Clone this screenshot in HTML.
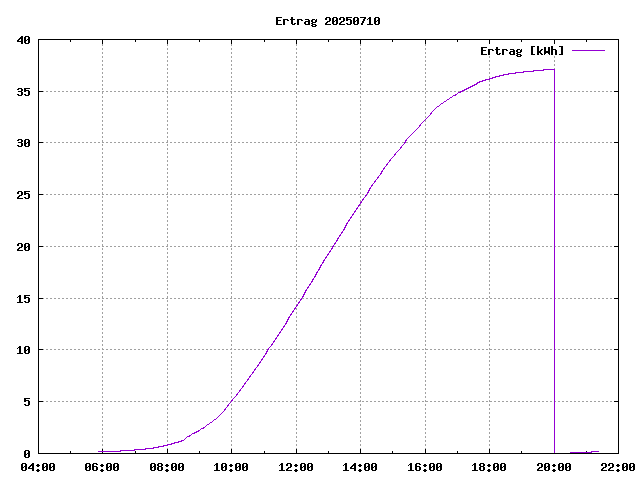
<!DOCTYPE html>
<html><head><meta charset="utf-8"><title>Ertrag 20250710</title>
<style>
html,body{margin:0;padding:0;background:#fff;width:640px;height:480px;overflow:hidden;font-family:"Liberation Mono",monospace;}
svg{display:block;position:absolute;left:0;top:0}
</style></head><body>
<svg width="640" height="480" viewBox="0 0 640 480" shape-rendering="crispEdges" role="img" aria-label="Ertrag 20250710">
<desc>Ertrag 20250710 - Ertrag [kWh]; y axis 0 to 40; x axis 04:00 to 22:00</desc>
<rect width="640" height="480" fill="#ffffff"/>
<path fill="#a0a0a0" d="M43 91h1v1h-1zM43 142h1v1h-1zM43 194h1v1h-1zM43 246h1v1h-1zM43 298h1v1h-1zM43 349h1v1h-1zM43 401h1v1h-1zM46 91h2v1h-2zM46 142h2v1h-2zM46 194h2v1h-2zM46 246h2v1h-2zM46 298h2v1h-2zM46 349h2v1h-2zM46 401h2v1h-2zM50 91h2v1h-2zM50 142h2v1h-2zM50 194h2v1h-2zM50 246h2v1h-2zM50 298h2v1h-2zM50 349h2v1h-2zM50 401h2v1h-2zM54 91h2v1h-2zM54 142h2v1h-2zM54 194h2v1h-2zM54 246h2v1h-2zM54 298h2v1h-2zM54 349h2v1h-2zM54 401h2v1h-2zM58 91h2v1h-2zM58 142h2v1h-2zM58 194h2v1h-2zM58 246h2v1h-2zM58 298h2v1h-2zM58 349h2v1h-2zM58 401h2v1h-2zM62 91h2v1h-2zM62 142h2v1h-2zM62 194h2v1h-2zM62 246h2v1h-2zM62 298h2v1h-2zM62 349h2v1h-2zM62 401h2v1h-2zM66 91h2v1h-2zM66 142h2v1h-2zM66 194h2v1h-2zM66 246h2v1h-2zM66 298h2v1h-2zM66 349h2v1h-2zM66 401h2v1h-2zM70 91h2v1h-2zM70 142h2v1h-2zM70 194h2v1h-2zM70 246h2v1h-2zM70 298h2v1h-2zM70 349h2v1h-2zM70 401h2v1h-2zM74 91h2v1h-2zM74 142h2v1h-2zM74 194h2v1h-2zM74 246h2v1h-2zM74 298h2v1h-2zM74 349h2v1h-2zM74 401h2v1h-2zM78 91h2v1h-2zM78 142h2v1h-2zM78 194h2v1h-2zM78 246h2v1h-2zM78 298h2v1h-2zM78 349h2v1h-2zM78 401h2v1h-2zM82 91h2v1h-2zM82 142h2v1h-2zM82 194h2v1h-2zM82 246h2v1h-2zM82 298h2v1h-2zM82 349h2v1h-2zM82 401h2v1h-2zM86 91h2v1h-2zM86 142h2v1h-2zM86 194h2v1h-2zM86 246h2v1h-2zM86 298h2v1h-2zM86 349h2v1h-2zM86 401h2v1h-2zM90 91h2v1h-2zM90 142h2v1h-2zM90 194h2v1h-2zM90 246h2v1h-2zM90 298h2v1h-2zM90 349h2v1h-2zM90 401h2v1h-2zM94 91h2v1h-2zM94 142h2v1h-2zM94 194h2v1h-2zM94 246h2v1h-2zM94 298h2v1h-2zM94 349h2v1h-2zM94 401h2v1h-2zM98 91h2v1h-2zM98 142h2v1h-2zM98 194h2v1h-2zM98 246h2v1h-2zM98 298h2v1h-2zM98 349h2v1h-2zM98 401h2v1h-2zM102 44h1v2h-1zM102 48h1v2h-1zM102 52h1v2h-1zM102 56h1v2h-1zM102 60h1v2h-1zM102 64h1v2h-1zM102 68h1v2h-1zM102 72h1v2h-1zM102 76h1v2h-1zM102 80h1v2h-1zM102 84h1v2h-1zM102 88h1v2h-1zM102 92h1v2h-1zM102 96h1v2h-1zM102 100h1v2h-1zM102 104h1v2h-1zM102 108h1v2h-1zM102 112h1v2h-1zM102 116h1v2h-1zM102 120h1v2h-1zM102 124h1v2h-1zM102 128h1v2h-1zM102 132h1v2h-1zM102 136h1v2h-1zM102 140h1v2h-1zM102 144h1v2h-1zM102 148h1v2h-1zM102 152h1v2h-1zM102 156h1v2h-1zM102 160h1v2h-1zM102 164h1v2h-1zM102 168h1v2h-1zM102 172h1v2h-1zM102 176h1v2h-1zM102 180h1v2h-1zM102 184h1v2h-1zM102 188h1v2h-1zM102 192h1v2h-1zM102 196h1v2h-1zM102 200h1v2h-1zM102 204h1v2h-1zM102 208h1v2h-1zM102 212h1v2h-1zM102 216h1v2h-1zM102 220h1v2h-1zM102 224h1v2h-1zM102 228h1v2h-1zM102 232h1v2h-1zM102 236h1v2h-1zM102 240h1v2h-1zM102 244h1v2h-1zM102 248h1v2h-1zM102 252h1v2h-1zM102 256h1v2h-1zM102 260h1v2h-1zM102 264h1v2h-1zM102 268h1v2h-1zM102 272h1v2h-1zM102 276h1v2h-1zM102 280h1v2h-1zM102 284h1v2h-1zM102 288h1v2h-1zM102 292h1v2h-1zM102 296h1v2h-1zM102 300h1v2h-1zM102 304h1v2h-1zM102 308h1v2h-1zM102 312h1v2h-1zM102 316h1v2h-1zM102 320h1v2h-1zM102 324h1v2h-1zM102 328h1v2h-1zM102 332h1v2h-1zM102 336h1v2h-1zM102 340h1v2h-1zM102 344h1v2h-1zM102 348h1v1h-1zM102 352h1v2h-1zM102 356h1v2h-1zM102 360h1v2h-1zM102 364h1v2h-1zM102 368h1v2h-1zM102 372h1v2h-1zM102 376h1v2h-1zM102 380h1v2h-1zM102 384h1v2h-1zM102 388h1v2h-1zM102 392h1v2h-1zM102 396h1v2h-1zM102 400h1v1h-1zM102 404h1v2h-1zM102 408h1v2h-1zM102 412h1v2h-1zM102 416h1v2h-1zM102 420h1v2h-1zM102 424h1v2h-1zM102 428h1v2h-1zM102 432h1v2h-1zM102 436h1v2h-1zM102 440h1v2h-1zM102 444h1v2h-1zM102 448h1v1h-1zM102 91h2v1h-2zM102 142h2v1h-2zM102 194h2v1h-2zM102 246h2v1h-2zM102 298h2v1h-2zM102 349h2v1h-2zM102 401h2v1h-2zM106 91h2v1h-2zM106 142h2v1h-2zM106 194h2v1h-2zM106 246h2v1h-2zM106 298h2v1h-2zM106 349h2v1h-2zM106 401h2v1h-2zM110 91h2v1h-2zM110 142h2v1h-2zM110 194h2v1h-2zM110 246h2v1h-2zM110 298h2v1h-2zM110 349h2v1h-2zM110 401h2v1h-2zM114 91h2v1h-2zM114 142h2v1h-2zM114 194h2v1h-2zM114 246h2v1h-2zM114 298h2v1h-2zM114 349h2v1h-2zM114 401h2v1h-2zM118 91h2v1h-2zM118 142h2v1h-2zM118 194h2v1h-2zM118 246h2v1h-2zM118 298h2v1h-2zM118 349h2v1h-2zM118 401h2v1h-2zM122 91h2v1h-2zM122 142h2v1h-2zM122 194h2v1h-2zM122 246h2v1h-2zM122 298h2v1h-2zM122 349h2v1h-2zM122 401h2v1h-2zM126 91h2v1h-2zM126 142h2v1h-2zM126 194h2v1h-2zM126 246h2v1h-2zM126 298h2v1h-2zM126 349h2v1h-2zM126 401h2v1h-2zM130 91h2v1h-2zM130 142h2v1h-2zM130 194h2v1h-2zM130 246h2v1h-2zM130 298h2v1h-2zM130 349h2v1h-2zM130 401h2v1h-2zM134 91h2v1h-2zM134 142h2v1h-2zM134 194h2v1h-2zM134 246h2v1h-2zM134 298h2v1h-2zM134 349h2v1h-2zM134 401h2v1h-2zM138 91h2v1h-2zM138 142h2v1h-2zM138 194h2v1h-2zM138 246h2v1h-2zM138 298h2v1h-2zM138 349h2v1h-2zM138 401h2v1h-2zM142 91h2v1h-2zM142 142h2v1h-2zM142 194h2v1h-2zM142 246h2v1h-2zM142 298h2v1h-2zM142 349h2v1h-2zM142 401h2v1h-2zM146 91h2v1h-2zM146 142h2v1h-2zM146 194h2v1h-2zM146 246h2v1h-2zM146 298h2v1h-2zM146 349h2v1h-2zM146 401h2v1h-2zM150 91h2v1h-2zM150 142h2v1h-2zM150 194h2v1h-2zM150 246h2v1h-2zM150 298h2v1h-2zM150 349h2v1h-2zM150 401h2v1h-2zM154 91h2v1h-2zM154 142h2v1h-2zM154 194h2v1h-2zM154 246h2v1h-2zM154 298h2v1h-2zM154 349h2v1h-2zM154 401h2v1h-2zM158 91h2v1h-2zM158 142h2v1h-2zM158 194h2v1h-2zM158 246h2v1h-2zM158 298h2v1h-2zM158 349h2v1h-2zM158 401h2v1h-2zM162 91h2v1h-2zM162 142h2v1h-2zM162 194h2v1h-2zM162 246h2v1h-2zM162 298h2v1h-2zM162 349h2v1h-2zM162 401h2v1h-2zM166 91h2v1h-2zM166 142h2v1h-2zM166 194h2v1h-2zM166 246h2v1h-2zM166 298h2v1h-2zM166 349h2v1h-2zM166 401h2v1h-2zM167 44h1v2h-1zM167 48h1v2h-1zM167 52h1v2h-1zM167 56h1v2h-1zM167 60h1v2h-1zM167 64h1v2h-1zM167 68h1v2h-1zM167 72h1v2h-1zM167 76h1v2h-1zM167 80h1v2h-1zM167 84h1v2h-1zM167 88h1v2h-1zM167 92h1v2h-1zM167 96h1v2h-1zM167 100h1v2h-1zM167 104h1v2h-1zM167 108h1v2h-1zM167 112h1v2h-1zM167 116h1v2h-1zM167 120h1v2h-1zM167 124h1v2h-1zM167 128h1v2h-1zM167 132h1v2h-1zM167 136h1v2h-1zM167 140h1v2h-1zM167 144h1v2h-1zM167 148h1v2h-1zM167 152h1v2h-1zM167 156h1v2h-1zM167 160h1v2h-1zM167 164h1v2h-1zM167 168h1v2h-1zM167 172h1v2h-1zM167 176h1v2h-1zM167 180h1v2h-1zM167 184h1v2h-1zM167 188h1v2h-1zM167 192h1v2h-1zM167 196h1v2h-1zM167 200h1v2h-1zM167 204h1v2h-1zM167 208h1v2h-1zM167 212h1v2h-1zM167 216h1v2h-1zM167 220h1v2h-1zM167 224h1v2h-1zM167 228h1v2h-1zM167 232h1v2h-1zM167 236h1v2h-1zM167 240h1v2h-1zM167 244h1v2h-1zM167 248h1v2h-1zM167 252h1v2h-1zM167 256h1v2h-1zM167 260h1v2h-1zM167 264h1v2h-1zM167 268h1v2h-1zM167 272h1v2h-1zM167 276h1v2h-1zM167 280h1v2h-1zM167 284h1v2h-1zM167 288h1v2h-1zM167 292h1v2h-1zM167 296h1v2h-1zM167 300h1v2h-1zM167 304h1v2h-1zM167 308h1v2h-1zM167 312h1v2h-1zM167 316h1v2h-1zM167 320h1v2h-1zM167 324h1v2h-1zM167 328h1v2h-1zM167 332h1v2h-1zM167 336h1v2h-1zM167 340h1v2h-1zM167 344h1v2h-1zM167 348h1v1h-1zM167 352h1v2h-1zM167 356h1v2h-1zM167 360h1v2h-1zM167 364h1v2h-1zM167 368h1v2h-1zM167 372h1v2h-1zM167 376h1v2h-1zM167 380h1v2h-1zM167 384h1v2h-1zM167 388h1v2h-1zM167 392h1v2h-1zM167 396h1v2h-1zM167 400h1v1h-1zM167 404h1v2h-1zM167 408h1v2h-1zM167 412h1v2h-1zM167 416h1v2h-1zM167 420h1v2h-1zM167 424h1v2h-1zM167 428h1v2h-1zM167 432h1v2h-1zM167 436h1v2h-1zM167 440h1v2h-1zM167 448h1v1h-1zM170 91h2v1h-2zM170 142h2v1h-2zM170 194h2v1h-2zM170 246h2v1h-2zM170 298h2v1h-2zM170 349h2v1h-2zM170 401h2v1h-2zM174 91h2v1h-2zM174 142h2v1h-2zM174 194h2v1h-2zM174 246h2v1h-2zM174 298h2v1h-2zM174 349h2v1h-2zM174 401h2v1h-2zM178 91h2v1h-2zM178 142h2v1h-2zM178 194h2v1h-2zM178 246h2v1h-2zM178 298h2v1h-2zM178 349h2v1h-2zM178 401h2v1h-2zM182 91h2v1h-2zM182 142h2v1h-2zM182 194h2v1h-2zM182 246h2v1h-2zM182 298h2v1h-2zM182 349h2v1h-2zM182 401h2v1h-2zM186 91h2v1h-2zM186 142h2v1h-2zM186 194h2v1h-2zM186 246h2v1h-2zM186 298h2v1h-2zM186 349h2v1h-2zM186 401h2v1h-2zM190 91h2v1h-2zM190 142h2v1h-2zM190 194h2v1h-2zM190 246h2v1h-2zM190 298h2v1h-2zM190 349h2v1h-2zM190 401h2v1h-2zM194 91h2v1h-2zM194 142h2v1h-2zM194 194h2v1h-2zM194 246h2v1h-2zM194 298h2v1h-2zM194 349h2v1h-2zM194 401h2v1h-2zM198 91h2v1h-2zM198 142h2v1h-2zM198 194h2v1h-2zM198 246h2v1h-2zM198 298h2v1h-2zM198 349h2v1h-2zM198 401h2v1h-2zM202 91h2v1h-2zM202 142h2v1h-2zM202 194h2v1h-2zM202 246h2v1h-2zM202 298h2v1h-2zM202 349h2v1h-2zM202 401h2v1h-2zM206 91h2v1h-2zM206 142h2v1h-2zM206 194h2v1h-2zM206 246h2v1h-2zM206 298h2v1h-2zM206 349h2v1h-2zM206 401h2v1h-2zM210 91h2v1h-2zM210 142h2v1h-2zM210 194h2v1h-2zM210 246h2v1h-2zM210 298h2v1h-2zM210 349h2v1h-2zM210 401h2v1h-2zM214 91h2v1h-2zM214 142h2v1h-2zM214 194h2v1h-2zM214 246h2v1h-2zM214 298h2v1h-2zM214 349h2v1h-2zM214 401h2v1h-2zM218 91h2v1h-2zM218 142h2v1h-2zM218 194h2v1h-2zM218 246h2v1h-2zM218 298h2v1h-2zM218 349h2v1h-2zM218 401h2v1h-2zM222 91h2v1h-2zM222 142h2v1h-2zM222 194h2v1h-2zM222 246h2v1h-2zM222 298h2v1h-2zM222 349h2v1h-2zM222 401h2v1h-2zM226 91h2v1h-2zM226 142h2v1h-2zM226 194h2v1h-2zM226 246h2v1h-2zM226 298h2v1h-2zM226 349h2v1h-2zM226 401h2v1h-2zM230 401h1v1h-1zM230 91h2v1h-2zM230 142h2v1h-2zM230 194h2v1h-2zM230 246h2v1h-2zM230 298h2v1h-2zM230 349h2v1h-2zM231 44h1v2h-1zM231 48h1v2h-1zM231 52h1v2h-1zM231 56h1v2h-1zM231 60h1v2h-1zM231 64h1v2h-1zM231 68h1v2h-1zM231 72h1v2h-1zM231 76h1v2h-1zM231 80h1v2h-1zM231 84h1v2h-1zM231 88h1v2h-1zM231 92h1v2h-1zM231 96h1v2h-1zM231 100h1v2h-1zM231 104h1v2h-1zM231 108h1v2h-1zM231 112h1v2h-1zM231 116h1v2h-1zM231 120h1v2h-1zM231 124h1v2h-1zM231 128h1v2h-1zM231 132h1v2h-1zM231 136h1v2h-1zM231 140h1v2h-1zM231 144h1v2h-1zM231 148h1v2h-1zM231 152h1v2h-1zM231 156h1v2h-1zM231 160h1v2h-1zM231 164h1v2h-1zM231 168h1v2h-1zM231 172h1v2h-1zM231 176h1v2h-1zM231 180h1v2h-1zM231 184h1v2h-1zM231 188h1v2h-1zM231 192h1v2h-1zM231 196h1v2h-1zM231 200h1v2h-1zM231 204h1v2h-1zM231 208h1v2h-1zM231 212h1v2h-1zM231 216h1v2h-1zM231 220h1v2h-1zM231 224h1v2h-1zM231 228h1v2h-1zM231 232h1v2h-1zM231 236h1v2h-1zM231 240h1v2h-1zM231 244h1v2h-1zM231 248h1v2h-1zM231 252h1v2h-1zM231 256h1v2h-1zM231 260h1v2h-1zM231 264h1v2h-1zM231 268h1v2h-1zM231 272h1v2h-1zM231 276h1v2h-1zM231 280h1v2h-1zM231 284h1v2h-1zM231 288h1v2h-1zM231 292h1v2h-1zM231 296h1v2h-1zM231 300h1v2h-1zM231 304h1v2h-1zM231 308h1v2h-1zM231 312h1v2h-1zM231 316h1v2h-1zM231 320h1v2h-1zM231 324h1v2h-1zM231 328h1v2h-1zM231 332h1v2h-1zM231 336h1v2h-1zM231 340h1v2h-1zM231 344h1v2h-1zM231 348h1v1h-1zM231 352h1v2h-1zM231 356h1v2h-1zM231 360h1v2h-1zM231 364h1v2h-1zM231 368h1v2h-1zM231 372h1v2h-1zM231 376h1v2h-1zM231 380h1v2h-1zM231 384h1v2h-1zM231 388h1v2h-1zM231 392h1v2h-1zM231 396h1v2h-1zM231 404h1v2h-1zM231 408h1v2h-1zM231 412h1v2h-1zM231 416h1v2h-1zM231 420h1v2h-1zM231 424h1v2h-1zM231 428h1v2h-1zM231 432h1v2h-1zM231 436h1v2h-1zM231 440h1v2h-1zM231 444h1v2h-1zM231 448h1v1h-1zM234 91h2v1h-2zM234 142h2v1h-2zM234 194h2v1h-2zM234 246h2v1h-2zM234 298h2v1h-2zM234 349h2v1h-2zM234 401h2v1h-2zM238 91h2v1h-2zM238 142h2v1h-2zM238 194h2v1h-2zM238 246h2v1h-2zM238 298h2v1h-2zM238 349h2v1h-2zM238 401h2v1h-2zM242 91h2v1h-2zM242 142h2v1h-2zM242 194h2v1h-2zM242 246h2v1h-2zM242 298h2v1h-2zM242 349h2v1h-2zM242 401h2v1h-2zM246 91h2v1h-2zM246 142h2v1h-2zM246 194h2v1h-2zM246 246h2v1h-2zM246 298h2v1h-2zM246 349h2v1h-2zM246 401h2v1h-2zM250 91h2v1h-2zM250 142h2v1h-2zM250 194h2v1h-2zM250 246h2v1h-2zM250 298h2v1h-2zM250 349h2v1h-2zM250 401h2v1h-2zM254 91h2v1h-2zM254 142h2v1h-2zM254 194h2v1h-2zM254 246h2v1h-2zM254 298h2v1h-2zM254 349h2v1h-2zM254 401h2v1h-2zM258 91h2v1h-2zM258 142h2v1h-2zM258 194h2v1h-2zM258 246h2v1h-2zM258 298h2v1h-2zM258 349h2v1h-2zM258 401h2v1h-2zM262 91h2v1h-2zM262 142h2v1h-2zM262 194h2v1h-2zM262 246h2v1h-2zM262 298h2v1h-2zM262 349h2v1h-2zM262 401h2v1h-2zM266 349h1v1h-1zM266 91h2v1h-2zM266 142h2v1h-2zM266 194h2v1h-2zM266 246h2v1h-2zM266 298h2v1h-2zM266 401h2v1h-2zM270 91h2v1h-2zM270 142h2v1h-2zM270 194h2v1h-2zM270 246h2v1h-2zM270 298h2v1h-2zM270 349h2v1h-2zM270 401h2v1h-2zM274 91h2v1h-2zM274 142h2v1h-2zM274 194h2v1h-2zM274 246h2v1h-2zM274 298h2v1h-2zM274 349h2v1h-2zM274 401h2v1h-2zM278 91h2v1h-2zM278 142h2v1h-2zM278 194h2v1h-2zM278 246h2v1h-2zM278 298h2v1h-2zM278 349h2v1h-2zM278 401h2v1h-2zM282 91h2v1h-2zM282 142h2v1h-2zM282 194h2v1h-2zM282 246h2v1h-2zM282 298h2v1h-2zM282 349h2v1h-2zM282 401h2v1h-2zM286 91h2v1h-2zM286 142h2v1h-2zM286 194h2v1h-2zM286 246h2v1h-2zM286 298h2v1h-2zM286 349h2v1h-2zM286 401h2v1h-2zM290 91h2v1h-2zM290 142h2v1h-2zM290 194h2v1h-2zM290 246h2v1h-2zM290 298h2v1h-2zM290 349h2v1h-2zM290 401h2v1h-2zM294 91h2v1h-2zM294 142h2v1h-2zM294 194h2v1h-2zM294 246h2v1h-2zM294 298h2v1h-2zM294 349h3v1h-3zM294 401h3v1h-3zM296 44h1v2h-1zM296 48h1v2h-1zM296 52h1v2h-1zM296 56h1v2h-1zM296 60h1v2h-1zM296 64h1v2h-1zM296 68h1v2h-1zM296 72h1v2h-1zM296 76h1v2h-1zM296 80h1v2h-1zM296 84h1v2h-1zM296 88h1v2h-1zM296 92h1v2h-1zM296 96h1v2h-1zM296 100h1v2h-1zM296 104h1v2h-1zM296 108h1v2h-1zM296 112h1v2h-1zM296 116h1v2h-1zM296 120h1v2h-1zM296 124h1v2h-1zM296 128h1v2h-1zM296 132h1v2h-1zM296 136h1v2h-1zM296 140h1v2h-1zM296 144h1v2h-1zM296 148h1v2h-1zM296 152h1v2h-1zM296 156h1v2h-1zM296 160h1v2h-1zM296 164h1v2h-1zM296 168h1v2h-1zM296 172h1v2h-1zM296 176h1v2h-1zM296 180h1v2h-1zM296 184h1v2h-1zM296 188h1v2h-1zM296 192h1v2h-1zM296 196h1v2h-1zM296 200h1v2h-1zM296 204h1v2h-1zM296 208h1v2h-1zM296 212h1v2h-1zM296 216h1v2h-1zM296 220h1v2h-1zM296 224h1v2h-1zM296 228h1v2h-1zM296 232h1v2h-1zM296 236h1v2h-1zM296 240h1v2h-1zM296 244h1v2h-1zM296 248h1v2h-1zM296 252h1v2h-1zM296 256h1v2h-1zM296 260h1v2h-1zM296 264h1v2h-1zM296 268h1v2h-1zM296 272h1v2h-1zM296 276h1v2h-1zM296 280h1v2h-1zM296 284h1v2h-1zM296 288h1v2h-1zM296 292h1v2h-1zM296 296h1v2h-1zM296 300h1v2h-1zM296 304h1v1h-1zM296 308h1v2h-1zM296 312h1v2h-1zM296 316h1v2h-1zM296 320h1v2h-1zM296 324h1v2h-1zM296 328h1v2h-1zM296 332h1v2h-1zM296 336h1v2h-1zM296 340h1v2h-1zM296 344h1v2h-1zM296 348h1v1h-1zM296 352h1v2h-1zM296 356h1v2h-1zM296 360h1v2h-1zM296 364h1v2h-1zM296 368h1v2h-1zM296 372h1v2h-1zM296 376h1v2h-1zM296 380h1v2h-1zM296 384h1v2h-1zM296 388h1v2h-1zM296 392h1v2h-1zM296 396h1v2h-1zM296 400h1v1h-1zM296 404h1v2h-1zM296 408h1v2h-1zM296 412h1v2h-1zM296 416h1v2h-1zM296 420h1v2h-1zM296 424h1v2h-1zM296 428h1v2h-1zM296 432h1v2h-1zM296 436h1v2h-1zM296 440h1v2h-1zM296 444h1v2h-1zM296 448h1v1h-1zM298 91h2v1h-2zM298 142h2v1h-2zM298 194h2v1h-2zM298 246h2v1h-2zM298 298h2v1h-2zM298 349h2v1h-2zM298 401h2v1h-2zM302 91h2v1h-2zM302 142h2v1h-2zM302 194h2v1h-2zM302 246h2v1h-2zM302 298h2v1h-2zM302 349h2v1h-2zM302 401h2v1h-2zM306 91h2v1h-2zM306 142h2v1h-2zM306 194h2v1h-2zM306 246h2v1h-2zM306 298h2v1h-2zM306 349h2v1h-2zM306 401h2v1h-2zM310 91h2v1h-2zM310 142h2v1h-2zM310 194h2v1h-2zM310 246h2v1h-2zM310 298h2v1h-2zM310 349h2v1h-2zM310 401h2v1h-2zM314 91h2v1h-2zM314 142h2v1h-2zM314 194h2v1h-2zM314 246h2v1h-2zM314 298h2v1h-2zM314 349h2v1h-2zM314 401h2v1h-2zM318 91h2v1h-2zM318 142h2v1h-2zM318 194h2v1h-2zM318 246h2v1h-2zM318 298h2v1h-2zM318 349h2v1h-2zM318 401h2v1h-2zM322 91h2v1h-2zM322 142h2v1h-2zM322 194h2v1h-2zM322 246h2v1h-2zM322 298h2v1h-2zM322 349h2v1h-2zM322 401h2v1h-2zM326 91h2v1h-2zM326 142h2v1h-2zM326 194h2v1h-2zM326 246h2v1h-2zM326 298h2v1h-2zM326 349h2v1h-2zM326 401h2v1h-2zM330 91h2v1h-2zM330 142h2v1h-2zM330 194h2v1h-2zM330 246h2v1h-2zM330 298h2v1h-2zM330 349h2v1h-2zM330 401h2v1h-2zM334 91h2v1h-2zM334 142h2v1h-2zM334 194h2v1h-2zM334 246h2v1h-2zM334 298h2v1h-2zM334 349h2v1h-2zM334 401h2v1h-2zM338 91h2v1h-2zM338 142h2v1h-2zM338 194h2v1h-2zM338 246h2v1h-2zM338 298h2v1h-2zM338 349h2v1h-2zM338 401h2v1h-2zM342 91h2v1h-2zM342 142h2v1h-2zM342 194h2v1h-2zM342 246h2v1h-2zM342 298h2v1h-2zM342 349h2v1h-2zM342 401h2v1h-2zM346 91h2v1h-2zM346 142h2v1h-2zM346 194h2v1h-2zM346 246h2v1h-2zM346 298h2v1h-2zM346 349h2v1h-2zM346 401h2v1h-2zM350 91h2v1h-2zM350 142h2v1h-2zM350 194h2v1h-2zM350 246h2v1h-2zM350 298h2v1h-2zM350 349h2v1h-2zM350 401h2v1h-2zM354 91h2v1h-2zM354 142h2v1h-2zM354 194h2v1h-2zM354 246h2v1h-2zM354 298h2v1h-2zM354 349h2v1h-2zM354 401h2v1h-2zM358 91h2v1h-2zM358 142h2v1h-2zM358 194h2v1h-2zM358 246h2v1h-2zM358 298h2v1h-2zM358 349h3v1h-3zM358 401h3v1h-3zM360 44h1v2h-1zM360 48h1v2h-1zM360 52h1v2h-1zM360 56h1v2h-1zM360 60h1v2h-1zM360 64h1v2h-1zM360 68h1v2h-1zM360 72h1v2h-1zM360 76h1v2h-1zM360 80h1v2h-1zM360 84h1v2h-1zM360 88h1v2h-1zM360 92h1v2h-1zM360 96h1v2h-1zM360 100h1v2h-1zM360 104h1v2h-1zM360 108h1v2h-1zM360 112h1v2h-1zM360 116h1v2h-1zM360 120h1v2h-1zM360 124h1v2h-1zM360 128h1v2h-1zM360 132h1v2h-1zM360 136h1v2h-1zM360 140h1v2h-1zM360 144h1v2h-1zM360 148h1v2h-1zM360 152h1v2h-1zM360 156h1v2h-1zM360 160h1v2h-1zM360 164h1v2h-1zM360 168h1v2h-1zM360 172h1v2h-1zM360 176h1v2h-1zM360 180h1v2h-1zM360 184h1v2h-1zM360 188h1v2h-1zM360 192h1v2h-1zM360 196h1v2h-1zM360 200h1v2h-1zM360 204h1v2h-1zM360 208h1v2h-1zM360 212h1v2h-1zM360 216h1v2h-1zM360 220h1v2h-1zM360 224h1v2h-1zM360 228h1v2h-1zM360 232h1v2h-1zM360 236h1v2h-1zM360 240h1v2h-1zM360 244h1v2h-1zM360 248h1v2h-1zM360 252h1v2h-1zM360 256h1v2h-1zM360 260h1v2h-1zM360 264h1v2h-1zM360 268h1v2h-1zM360 272h1v2h-1zM360 276h1v2h-1zM360 280h1v2h-1zM360 284h1v2h-1zM360 288h1v2h-1zM360 292h1v2h-1zM360 296h1v2h-1zM360 300h1v2h-1zM360 304h1v2h-1zM360 308h1v2h-1zM360 312h1v2h-1zM360 316h1v2h-1zM360 320h1v2h-1zM360 324h1v2h-1zM360 328h1v2h-1zM360 332h1v2h-1zM360 336h1v2h-1zM360 340h1v2h-1zM360 344h1v2h-1zM360 348h1v1h-1zM360 352h1v2h-1zM360 356h1v2h-1zM360 360h1v2h-1zM360 364h1v2h-1zM360 368h1v2h-1zM360 372h1v2h-1zM360 376h1v2h-1zM360 380h1v2h-1zM360 384h1v2h-1zM360 388h1v2h-1zM360 392h1v2h-1zM360 396h1v2h-1zM360 400h1v1h-1zM360 404h1v2h-1zM360 408h1v2h-1zM360 412h1v2h-1zM360 416h1v2h-1zM360 420h1v2h-1zM360 424h1v2h-1zM360 428h1v2h-1zM360 432h1v2h-1zM360 436h1v2h-1zM360 440h1v2h-1zM360 444h1v2h-1zM360 448h1v1h-1zM362 91h2v1h-2zM362 142h2v1h-2zM362 194h2v1h-2zM362 246h2v1h-2zM362 298h2v1h-2zM362 349h2v1h-2zM362 401h2v1h-2zM366 91h2v1h-2zM366 142h2v1h-2zM366 246h2v1h-2zM366 298h2v1h-2zM366 349h2v1h-2zM366 401h2v1h-2zM367 194h1v1h-1zM370 91h2v1h-2zM370 142h2v1h-2zM370 194h2v1h-2zM370 246h2v1h-2zM370 298h2v1h-2zM370 349h2v1h-2zM370 401h2v1h-2zM374 91h2v1h-2zM374 142h2v1h-2zM374 194h2v1h-2zM374 246h2v1h-2zM374 298h2v1h-2zM374 349h2v1h-2zM374 401h2v1h-2zM378 91h2v1h-2zM378 142h2v1h-2zM378 194h2v1h-2zM378 246h2v1h-2zM378 298h2v1h-2zM378 349h2v1h-2zM378 401h2v1h-2zM382 91h2v1h-2zM382 142h2v1h-2zM382 194h2v1h-2zM382 246h2v1h-2zM382 298h2v1h-2zM382 349h2v1h-2zM382 401h2v1h-2zM386 91h2v1h-2zM386 142h2v1h-2zM386 194h2v1h-2zM386 246h2v1h-2zM386 298h2v1h-2zM386 349h2v1h-2zM386 401h2v1h-2zM390 91h2v1h-2zM390 142h2v1h-2zM390 194h2v1h-2zM390 246h2v1h-2zM390 298h2v1h-2zM390 349h2v1h-2zM390 401h2v1h-2zM394 91h2v1h-2zM394 142h2v1h-2zM394 194h2v1h-2zM394 246h2v1h-2zM394 298h2v1h-2zM394 349h2v1h-2zM394 401h2v1h-2zM398 91h2v1h-2zM398 142h2v1h-2zM398 194h2v1h-2zM398 246h2v1h-2zM398 298h2v1h-2zM398 349h2v1h-2zM398 401h2v1h-2zM402 91h2v1h-2zM402 142h2v1h-2zM402 194h2v1h-2zM402 246h2v1h-2zM402 298h2v1h-2zM402 349h2v1h-2zM402 401h2v1h-2zM406 91h2v1h-2zM406 142h2v1h-2zM406 194h2v1h-2zM406 246h2v1h-2zM406 298h2v1h-2zM406 349h2v1h-2zM406 401h2v1h-2zM410 91h2v1h-2zM410 142h2v1h-2zM410 194h2v1h-2zM410 246h2v1h-2zM410 298h2v1h-2zM410 349h2v1h-2zM410 401h2v1h-2zM414 91h2v1h-2zM414 142h2v1h-2zM414 194h2v1h-2zM414 246h2v1h-2zM414 298h2v1h-2zM414 349h2v1h-2zM414 401h2v1h-2zM418 91h2v1h-2zM418 142h2v1h-2zM418 194h2v1h-2zM418 246h2v1h-2zM418 298h2v1h-2zM418 349h2v1h-2zM418 401h2v1h-2zM422 91h2v1h-2zM422 142h2v1h-2zM422 194h2v1h-2zM422 246h2v1h-2zM422 298h2v1h-2zM422 349h2v1h-2zM422 401h2v1h-2zM425 44h1v2h-1zM425 48h1v2h-1zM425 52h1v2h-1zM425 56h1v2h-1zM425 60h1v2h-1zM425 64h1v2h-1zM425 68h1v2h-1zM425 72h1v2h-1zM425 76h1v2h-1zM425 80h1v2h-1zM425 84h1v2h-1zM425 88h1v2h-1zM425 92h1v2h-1zM425 96h1v2h-1zM425 100h1v2h-1zM425 104h1v2h-1zM425 108h1v2h-1zM425 112h1v2h-1zM425 116h1v2h-1zM425 120h1v2h-1zM425 124h1v2h-1zM425 128h1v2h-1zM425 132h1v2h-1zM425 136h1v2h-1zM425 140h1v2h-1zM425 144h1v2h-1zM425 148h1v2h-1zM425 152h1v2h-1zM425 156h1v2h-1zM425 160h1v2h-1zM425 164h1v2h-1zM425 168h1v2h-1zM425 172h1v2h-1zM425 176h1v2h-1zM425 180h1v2h-1zM425 184h1v2h-1zM425 188h1v2h-1zM425 192h1v2h-1zM425 196h1v2h-1zM425 200h1v2h-1zM425 204h1v2h-1zM425 208h1v2h-1zM425 212h1v2h-1zM425 216h1v2h-1zM425 220h1v2h-1zM425 224h1v2h-1zM425 228h1v2h-1zM425 232h1v2h-1zM425 236h1v2h-1zM425 240h1v2h-1zM425 244h1v2h-1zM425 248h1v2h-1zM425 252h1v2h-1zM425 256h1v2h-1zM425 260h1v2h-1zM425 264h1v2h-1zM425 268h1v2h-1zM425 272h1v2h-1zM425 276h1v2h-1zM425 280h1v2h-1zM425 284h1v2h-1zM425 288h1v2h-1zM425 292h1v2h-1zM425 296h1v2h-1zM425 300h1v2h-1zM425 304h1v2h-1zM425 308h1v2h-1zM425 312h1v2h-1zM425 316h1v2h-1zM425 320h1v2h-1zM425 324h1v2h-1zM425 328h1v2h-1zM425 332h1v2h-1zM425 336h1v2h-1zM425 340h1v2h-1zM425 344h1v2h-1zM425 348h1v1h-1zM425 352h1v2h-1zM425 356h1v2h-1zM425 360h1v2h-1zM425 364h1v2h-1zM425 368h1v2h-1zM425 372h1v2h-1zM425 376h1v2h-1zM425 380h1v2h-1zM425 384h1v2h-1zM425 388h1v2h-1zM425 392h1v2h-1zM425 396h1v2h-1zM425 400h1v1h-1zM425 404h1v2h-1zM425 408h1v2h-1zM425 412h1v2h-1zM425 416h1v2h-1zM425 420h1v2h-1zM425 424h1v2h-1zM425 428h1v2h-1zM425 432h1v2h-1zM425 436h1v2h-1zM425 440h1v2h-1zM425 444h1v2h-1zM425 448h1v1h-1zM425 349h3v1h-3zM425 401h3v1h-3zM426 91h2v1h-2zM426 142h2v1h-2zM426 194h2v1h-2zM426 246h2v1h-2zM426 298h2v1h-2zM430 91h2v1h-2zM430 142h2v1h-2zM430 194h2v1h-2zM430 246h2v1h-2zM430 298h2v1h-2zM430 349h2v1h-2zM430 401h2v1h-2zM434 91h2v1h-2zM434 142h2v1h-2zM434 194h2v1h-2zM434 246h2v1h-2zM434 298h2v1h-2zM434 349h2v1h-2zM434 401h2v1h-2zM438 91h2v1h-2zM438 142h2v1h-2zM438 194h2v1h-2zM438 246h2v1h-2zM438 298h2v1h-2zM438 349h2v1h-2zM438 401h2v1h-2zM442 91h2v1h-2zM442 142h2v1h-2zM442 194h2v1h-2zM442 246h2v1h-2zM442 298h2v1h-2zM442 349h2v1h-2zM442 401h2v1h-2zM446 91h2v1h-2zM446 142h2v1h-2zM446 194h2v1h-2zM446 246h2v1h-2zM446 298h2v1h-2zM446 349h2v1h-2zM446 401h2v1h-2zM450 91h2v1h-2zM450 142h2v1h-2zM450 194h2v1h-2zM450 246h2v1h-2zM450 298h2v1h-2zM450 349h2v1h-2zM450 401h2v1h-2zM454 91h2v1h-2zM454 142h2v1h-2zM454 194h2v1h-2zM454 246h2v1h-2zM454 298h2v1h-2zM454 349h2v1h-2zM454 401h2v1h-2zM458 91h2v1h-2zM458 142h2v1h-2zM458 194h2v1h-2zM458 246h2v1h-2zM458 298h2v1h-2zM458 349h2v1h-2zM458 401h2v1h-2zM462 142h2v1h-2zM462 194h2v1h-2zM462 246h2v1h-2zM462 298h2v1h-2zM462 349h2v1h-2zM462 401h2v1h-2zM463 91h1v1h-1zM466 91h2v1h-2zM466 142h2v1h-2zM466 194h2v1h-2zM466 246h2v1h-2zM466 298h2v1h-2zM466 349h2v1h-2zM466 401h2v1h-2zM470 91h2v1h-2zM470 142h2v1h-2zM470 194h2v1h-2zM470 246h2v1h-2zM470 298h2v1h-2zM470 349h2v1h-2zM470 401h2v1h-2zM474 91h2v1h-2zM474 142h2v1h-2zM474 194h2v1h-2zM474 246h2v1h-2zM474 298h2v1h-2zM474 349h2v1h-2zM474 401h2v1h-2zM478 91h2v1h-2zM478 142h2v1h-2zM478 194h2v1h-2zM478 246h2v1h-2zM478 298h2v1h-2zM478 349h2v1h-2zM478 401h2v1h-2zM482 91h2v1h-2zM482 142h2v1h-2zM482 194h2v1h-2zM482 246h2v1h-2zM482 298h2v1h-2zM482 349h2v1h-2zM482 401h2v1h-2zM486 91h2v1h-2zM486 142h2v1h-2zM486 194h2v1h-2zM486 246h2v1h-2zM486 298h2v1h-2zM486 349h2v1h-2zM486 401h2v1h-2zM489 56h1v2h-1zM489 60h1v2h-1zM489 64h1v2h-1zM489 68h1v2h-1zM489 72h1v2h-1zM489 76h1v2h-1zM489 80h1v2h-1zM489 84h1v2h-1zM489 88h1v2h-1zM489 92h1v2h-1zM489 96h1v2h-1zM489 100h1v2h-1zM489 104h1v2h-1zM489 108h1v2h-1zM489 112h1v2h-1zM489 116h1v2h-1zM489 120h1v2h-1zM489 124h1v2h-1zM489 128h1v2h-1zM489 132h1v2h-1zM489 136h1v2h-1zM489 140h1v2h-1zM489 144h1v2h-1zM489 148h1v2h-1zM489 152h1v2h-1zM489 156h1v2h-1zM489 160h1v2h-1zM489 164h1v2h-1zM489 168h1v2h-1zM489 172h1v2h-1zM489 176h1v2h-1zM489 180h1v2h-1zM489 184h1v2h-1zM489 188h1v2h-1zM489 192h1v2h-1zM489 196h1v2h-1zM489 200h1v2h-1zM489 204h1v2h-1zM489 208h1v2h-1zM489 212h1v2h-1zM489 216h1v2h-1zM489 220h1v2h-1zM489 224h1v2h-1zM489 228h1v2h-1zM489 232h1v2h-1zM489 236h1v2h-1zM489 240h1v2h-1zM489 244h1v2h-1zM489 248h1v2h-1zM489 252h1v2h-1zM489 256h1v2h-1zM489 260h1v2h-1zM489 264h1v2h-1zM489 268h1v2h-1zM489 272h1v2h-1zM489 276h1v2h-1zM489 280h1v2h-1zM489 284h1v2h-1zM489 288h1v2h-1zM489 292h1v2h-1zM489 296h1v2h-1zM489 300h1v2h-1zM489 304h1v2h-1zM489 308h1v2h-1zM489 312h1v2h-1zM489 316h1v2h-1zM489 320h1v2h-1zM489 324h1v2h-1zM489 328h1v2h-1zM489 332h1v2h-1zM489 336h1v2h-1zM489 340h1v2h-1zM489 344h1v2h-1zM489 348h1v1h-1zM489 352h1v2h-1zM489 356h1v2h-1zM489 360h1v2h-1zM489 364h1v2h-1zM489 368h1v2h-1zM489 372h1v2h-1zM489 376h1v2h-1zM489 380h1v2h-1zM489 384h1v2h-1zM489 388h1v2h-1zM489 392h1v2h-1zM489 396h1v2h-1zM489 400h1v1h-1zM489 404h1v2h-1zM489 408h1v2h-1zM489 412h1v2h-1zM489 416h1v2h-1zM489 420h1v2h-1zM489 424h1v2h-1zM489 428h1v2h-1zM489 432h1v2h-1zM489 436h1v2h-1zM489 440h1v2h-1zM489 444h1v2h-1zM489 448h1v1h-1zM489 349h3v1h-3zM489 401h3v1h-3zM490 91h2v1h-2zM490 142h2v1h-2zM490 194h2v1h-2zM490 246h2v1h-2zM490 298h2v1h-2zM494 91h2v1h-2zM494 142h2v1h-2zM494 194h2v1h-2zM494 246h2v1h-2zM494 298h2v1h-2zM494 349h2v1h-2zM494 401h2v1h-2zM498 91h2v1h-2zM498 142h2v1h-2zM498 194h2v1h-2zM498 246h2v1h-2zM498 298h2v1h-2zM498 349h2v1h-2zM498 401h2v1h-2zM502 91h2v1h-2zM502 142h2v1h-2zM502 194h2v1h-2zM502 246h2v1h-2zM502 298h2v1h-2zM502 349h2v1h-2zM502 401h2v1h-2zM506 91h2v1h-2zM506 142h2v1h-2zM506 194h2v1h-2zM506 246h2v1h-2zM506 298h2v1h-2zM506 349h2v1h-2zM506 401h2v1h-2zM510 91h2v1h-2zM510 142h2v1h-2zM510 194h2v1h-2zM510 246h2v1h-2zM510 298h2v1h-2zM510 349h2v1h-2zM510 401h2v1h-2zM514 91h2v1h-2zM514 142h2v1h-2zM514 194h2v1h-2zM514 246h2v1h-2zM514 298h2v1h-2zM514 349h2v1h-2zM514 401h2v1h-2zM518 91h2v1h-2zM518 142h2v1h-2zM518 194h2v1h-2zM518 246h2v1h-2zM518 298h2v1h-2zM518 349h2v1h-2zM518 401h2v1h-2zM522 91h2v1h-2zM522 142h2v1h-2zM522 194h2v1h-2zM522 246h2v1h-2zM522 298h2v1h-2zM522 349h2v1h-2zM522 401h2v1h-2zM526 91h2v1h-2zM526 142h2v1h-2zM526 194h2v1h-2zM526 246h2v1h-2zM526 298h2v1h-2zM526 349h2v1h-2zM526 401h2v1h-2zM530 91h2v1h-2zM530 142h2v1h-2zM530 194h2v1h-2zM530 246h2v1h-2zM530 298h2v1h-2zM530 349h2v1h-2zM530 401h2v1h-2zM534 91h2v1h-2zM534 142h2v1h-2zM534 194h2v1h-2zM534 246h2v1h-2zM534 298h2v1h-2zM534 349h2v1h-2zM534 401h2v1h-2zM538 91h2v1h-2zM538 142h2v1h-2zM538 194h2v1h-2zM538 246h2v1h-2zM538 298h2v1h-2zM538 349h2v1h-2zM538 401h2v1h-2zM542 91h2v1h-2zM542 142h2v1h-2zM542 194h2v1h-2zM542 246h2v1h-2zM542 298h2v1h-2zM542 349h2v1h-2zM542 401h2v1h-2zM546 91h2v1h-2zM546 142h2v1h-2zM546 194h2v1h-2zM546 246h2v1h-2zM546 298h2v1h-2zM546 349h2v1h-2zM546 401h2v1h-2zM550 91h2v1h-2zM550 142h2v1h-2zM550 194h2v1h-2zM550 246h2v1h-2zM550 298h2v1h-2zM550 349h2v1h-2zM550 401h2v1h-2zM554 56h1v2h-1zM554 60h1v2h-1zM554 64h1v2h-1zM554 68h1v1h-1zM555 91h1v1h-1zM555 142h1v1h-1zM555 194h1v1h-1zM555 246h1v1h-1zM555 298h1v1h-1zM555 349h1v1h-1zM555 401h1v1h-1zM558 91h2v1h-2zM558 142h2v1h-2zM558 194h2v1h-2zM558 246h2v1h-2zM558 298h2v1h-2zM558 349h2v1h-2zM558 401h2v1h-2zM562 91h2v1h-2zM562 142h2v1h-2zM562 194h2v1h-2zM562 246h2v1h-2zM562 298h2v1h-2zM562 349h2v1h-2zM562 401h2v1h-2zM566 91h2v1h-2zM566 142h2v1h-2zM566 194h2v1h-2zM566 246h2v1h-2zM566 298h2v1h-2zM566 349h2v1h-2zM566 401h2v1h-2zM570 91h2v1h-2zM570 142h2v1h-2zM570 194h2v1h-2zM570 246h2v1h-2zM570 298h2v1h-2zM570 349h2v1h-2zM570 401h2v1h-2zM574 91h2v1h-2zM574 142h2v1h-2zM574 194h2v1h-2zM574 246h2v1h-2zM574 298h2v1h-2zM574 349h2v1h-2zM574 401h2v1h-2zM578 91h2v1h-2zM578 142h2v1h-2zM578 194h2v1h-2zM578 246h2v1h-2zM578 298h2v1h-2zM578 349h2v1h-2zM578 401h2v1h-2zM582 91h2v1h-2zM582 142h2v1h-2zM582 194h2v1h-2zM582 246h2v1h-2zM582 298h2v1h-2zM582 349h2v1h-2zM582 401h2v1h-2zM586 91h2v1h-2zM586 142h2v1h-2zM586 194h2v1h-2zM586 246h2v1h-2zM586 298h2v1h-2zM586 349h2v1h-2zM586 401h2v1h-2zM590 91h2v1h-2zM590 142h2v1h-2zM590 194h2v1h-2zM590 246h2v1h-2zM590 298h2v1h-2zM590 349h2v1h-2zM590 401h2v1h-2zM594 91h2v1h-2zM594 142h2v1h-2zM594 194h2v1h-2zM594 246h2v1h-2zM594 298h2v1h-2zM594 349h2v1h-2zM594 401h2v1h-2zM598 91h2v1h-2zM598 142h2v1h-2zM598 194h2v1h-2zM598 246h2v1h-2zM598 298h2v1h-2zM598 349h2v1h-2zM598 401h2v1h-2zM602 91h2v1h-2zM602 142h2v1h-2zM602 194h2v1h-2zM602 246h2v1h-2zM602 298h2v1h-2zM602 349h2v1h-2zM602 401h2v1h-2zM606 91h2v1h-2zM606 142h2v1h-2zM606 194h2v1h-2zM606 246h2v1h-2zM606 298h2v1h-2zM606 349h2v1h-2zM606 401h2v1h-2zM610 91h2v1h-2zM610 142h2v1h-2zM610 194h2v1h-2zM610 246h2v1h-2zM610 298h2v1h-2zM610 349h2v1h-2zM610 401h2v1h-2z"/>
<path fill="#000000" d="M17 297h1v1h-1zM17 348h1v1h-1zM17 40h2v1h-2zM17 89h2v1h-2zM17 94h2v1h-2zM17 140h2v1h-2zM17 145h2v1h-2zM17 192h2v2h-2zM17 197h2v1h-2zM17 244h2v2h-2zM17 249h2v1h-2zM17 41h6v1h-6zM17 198h6v1h-6zM17 250h6v1h-6zM17 302h6v1h-6zM17 353h6v1h-6zM18 39h2v1h-2zM18 196h2v1h-2zM18 248h2v1h-2zM18 296h3v1h-3zM18 347h3v1h-3zM18 88h4v1h-4zM18 91h4v1h-4zM18 95h4v1h-4zM18 139h4v1h-4zM18 142h4v1h-4zM18 146h4v1h-4zM18 191h4v1h-4zM18 243h4v1h-4zM19 295h2v1h-2zM19 297h2v5h-2zM19 346h2v1h-2zM19 348h2v5h-2zM19 195h3v1h-3zM19 247h3v1h-3zM19 38h4v1h-4zM20 37h3v1h-3zM21 36h2v1h-2zM21 39h2v2h-2zM21 42h2v2h-2zM21 89h2v2h-2zM21 92h2v3h-2zM21 140h2v2h-2zM21 143h2v3h-2zM21 192h2v3h-2zM21 244h2v3h-2zM21 464h2v3h-2zM21 468h2v2h-2zM21 467h3v1h-3zM22 463h4v1h-4zM22 470h4v1h-4zM24 37h2v3h-2zM24 41h2v2h-2zM24 89h2v1h-2zM24 91h2v1h-2zM24 94h2v1h-2zM24 140h2v3h-2zM24 144h2v2h-2zM24 192h2v1h-2zM24 194h2v1h-2zM24 197h2v1h-2zM24 244h2v3h-2zM24 248h2v2h-2zM24 296h2v1h-2zM24 298h2v1h-2zM24 301h2v1h-2zM24 347h2v3h-2zM24 351h2v2h-2zM24 399h2v1h-2zM24 401h2v1h-2zM24 404h2v1h-2zM24 451h2v3h-2zM24 455h2v2h-2zM24 40h3v1h-3zM24 143h3v1h-3zM24 247h3v1h-3zM24 350h3v1h-3zM24 454h3v1h-3zM24 466h3v1h-3zM24 90h5v1h-5zM24 193h5v1h-5zM24 297h5v1h-5zM24 400h5v1h-5zM24 88h6v1h-6zM24 191h6v1h-6zM24 295h6v1h-6zM24 398h6v1h-6zM25 464h2v2h-2zM25 467h2v3h-2zM25 36h4v1h-4zM25 43h4v1h-4zM25 95h4v1h-4zM25 139h4v1h-4zM25 146h4v1h-4zM25 198h4v1h-4zM25 243h4v1h-4zM25 250h4v1h-4zM25 302h4v1h-4zM25 346h4v1h-4zM25 353h4v1h-4zM25 405h4v1h-4zM25 450h4v1h-4zM25 457h4v1h-4zM27 39h3v1h-3zM27 142h3v1h-3zM27 246h3v1h-3zM27 349h3v1h-3zM27 453h3v1h-3zM28 37h2v2h-2zM28 40h2v3h-2zM28 91h2v4h-2zM28 140h2v2h-2zM28 143h2v3h-2zM28 194h2v4h-2zM28 244h2v2h-2zM28 247h2v3h-2zM28 298h2v4h-2zM28 347h2v2h-2zM28 350h2v3h-2zM28 401h2v4h-2zM28 451h2v2h-2zM28 454h2v3h-2zM28 467h2v1h-2zM28 468h6v1h-6zM29 466h2v1h-2zM30 465h4v1h-4zM31 464h3v1h-3zM32 463h2v1h-2zM32 466h2v2h-2zM32 469h2v2h-2zM36 465h4v1h-4zM36 470h4v1h-4zM37 464h2v1h-2zM37 466h2v1h-2zM37 469h2v1h-2zM37 471h2v1h-2zM38 40h1v51h-1zM38 92h1v50h-1zM38 143h1v51h-1zM38 195h1v51h-1zM38 247h1v51h-1zM38 299h1v50h-1zM38 350h1v51h-1zM38 402h1v51h-1zM38 91h5v1h-5zM38 142h5v1h-5zM38 194h5v1h-5zM38 246h5v1h-5zM38 298h5v1h-5zM38 349h5v1h-5zM38 401h5v1h-5zM38 39h581v1h-581zM38 453h581v1h-581zM42 464h2v3h-2zM42 468h2v2h-2zM42 467h3v1h-3zM43 463h4v1h-4zM43 470h4v1h-4zM45 466h3v1h-3zM46 464h2v2h-2zM46 467h2v3h-2zM49 464h2v3h-2zM49 468h2v2h-2zM49 467h3v1h-3zM50 463h4v1h-4zM50 470h4v1h-4zM52 466h3v1h-3zM53 464h2v2h-2zM53 467h2v3h-2zM70 40h1v2h-1zM70 451h1v2h-1zM85 464h2v3h-2zM85 468h2v2h-2zM85 467h3v1h-3zM86 463h4v1h-4zM86 470h4v1h-4zM88 466h3v1h-3zM89 464h2v2h-2zM89 467h2v3h-2zM92 464h2v2h-2zM92 467h2v3h-2zM92 466h5v1h-5zM93 463h4v1h-4zM93 470h4v1h-4zM96 464h2v1h-2zM96 467h2v3h-2zM100 465h4v1h-4zM100 470h4v1h-4zM101 464h2v1h-2zM101 466h2v1h-2zM101 469h2v1h-2zM101 471h2v1h-2zM102 40h1v4h-1zM102 449h1v2h-1zM102 452h1v1h-1zM106 464h2v3h-2zM106 468h2v2h-2zM106 467h3v1h-3zM107 463h4v1h-4zM107 470h4v1h-4zM109 466h3v1h-3zM110 464h2v2h-2zM110 467h2v3h-2zM113 464h2v3h-2zM113 468h2v2h-2zM113 467h3v1h-3zM114 463h4v1h-4zM114 470h4v1h-4zM116 466h3v1h-3zM117 464h2v2h-2zM117 467h2v3h-2zM135 40h1v2h-1zM135 451h1v2h-1zM150 464h2v3h-2zM150 468h2v2h-2zM150 467h3v1h-3zM151 463h4v1h-4zM151 470h4v1h-4zM153 466h3v1h-3zM154 464h2v2h-2zM154 467h2v3h-2zM157 464h2v2h-2zM157 467h2v3h-2zM158 463h4v1h-4zM158 466h4v1h-4zM158 470h4v1h-4zM161 464h2v2h-2zM161 467h2v3h-2zM165 465h4v1h-4zM165 470h4v1h-4zM166 464h2v1h-2zM166 466h2v1h-2zM166 469h2v1h-2zM166 471h2v1h-2zM167 40h1v4h-1zM167 449h1v4h-1zM171 464h2v3h-2zM171 468h2v2h-2zM171 467h3v1h-3zM172 463h4v1h-4zM172 470h4v1h-4zM174 466h3v1h-3zM175 464h2v2h-2zM175 467h2v3h-2zM178 464h2v3h-2zM178 468h2v2h-2zM178 467h3v1h-3zM179 463h4v1h-4zM179 470h4v1h-4zM181 466h3v1h-3zM182 464h2v2h-2zM182 467h2v3h-2zM199 40h1v2h-1zM199 451h1v2h-1zM214 465h1v1h-1zM214 470h6v1h-6zM215 464h3v1h-3zM216 463h2v1h-2zM216 465h2v5h-2zM221 464h2v3h-2zM221 468h2v2h-2zM221 467h3v1h-3zM222 463h4v1h-4zM222 470h4v1h-4zM224 466h3v1h-3zM225 464h2v2h-2zM225 467h2v3h-2zM229 465h4v1h-4zM229 470h4v1h-4zM230 464h2v1h-2zM230 466h2v1h-2zM230 469h2v1h-2zM230 471h2v1h-2zM231 40h1v4h-1zM231 449h1v4h-1zM235 464h2v3h-2zM235 468h2v2h-2zM235 467h3v1h-3zM236 463h4v1h-4zM236 470h4v1h-4zM238 466h3v1h-3zM239 464h2v2h-2zM239 467h2v3h-2zM242 464h2v3h-2zM242 468h2v2h-2zM242 467h3v1h-3zM243 463h4v1h-4zM243 470h4v1h-4zM245 466h3v1h-3zM246 464h2v2h-2zM246 467h2v3h-2zM264 40h1v2h-1zM264 451h1v2h-1zM276 18h2v2h-2zM276 21h2v3h-2zM276 20h5v1h-5zM276 17h6v1h-6zM276 24h6v1h-6zM279 465h1v1h-1zM279 470h6v1h-6zM280 464h3v1h-3zM281 463h2v1h-2zM281 465h2v5h-2zM283 20h2v5h-2zM283 19h5v1h-5zM286 464h2v2h-2zM286 469h2v1h-2zM286 470h6v1h-6zM287 20h2v1h-2zM287 468h2v1h-2zM287 463h4v1h-4zM288 467h3v1h-3zM290 464h2v3h-2zM290 19h5v1h-5zM291 17h2v2h-2zM291 20h2v4h-2zM292 24h3v1h-3zM294 23h2v1h-2zM294 465h4v1h-4zM294 470h4v1h-4zM295 464h2v1h-2zM295 466h2v1h-2zM295 469h2v1h-2zM295 471h2v1h-2zM296 40h1v4h-1zM296 449h1v4h-1zM297 20h2v5h-2zM297 19h5v1h-5zM300 464h2v3h-2zM300 468h2v2h-2zM300 467h3v1h-3zM301 20h2v1h-2zM301 463h4v1h-4zM301 470h4v1h-4zM303 466h3v1h-3zM304 22h2v2h-2zM304 464h2v2h-2zM304 467h2v3h-2zM305 19h4v1h-4zM305 21h5v1h-5zM305 24h5v1h-5zM307 464h2v3h-2zM307 468h2v2h-2zM307 467h3v1h-3zM308 20h2v1h-2zM308 22h2v2h-2zM308 463h4v1h-4zM308 470h4v1h-4zM310 466h3v1h-3zM311 20h2v2h-2zM311 23h2v1h-2zM311 25h2v1h-2zM311 464h2v2h-2zM311 467h2v3h-2zM312 19h3v1h-3zM312 22h4v1h-4zM312 24h4v1h-4zM312 26h4v1h-4zM315 20h2v2h-2zM315 25h2v1h-2zM316 19h1v1h-1zM325 18h2v2h-2zM325 23h2v1h-2zM325 24h6v1h-6zM326 22h2v1h-2zM326 17h4v1h-4zM327 21h3v1h-3zM328 40h1v2h-1zM328 451h1v2h-1zM329 18h2v3h-2zM332 18h2v3h-2zM332 22h2v2h-2zM332 21h3v1h-3zM333 17h4v1h-4zM333 24h4v1h-4zM335 20h3v1h-3zM336 18h2v2h-2zM336 21h2v3h-2zM339 18h2v2h-2zM339 23h2v1h-2zM339 24h6v1h-6zM340 22h2v1h-2zM340 17h4v1h-4zM341 21h3v1h-3zM343 465h1v1h-1zM343 18h2v3h-2zM343 470h6v1h-6zM344 464h3v1h-3zM345 463h2v1h-2zM345 465h2v5h-2zM346 18h2v1h-2zM346 20h2v1h-2zM346 23h2v1h-2zM346 19h5v1h-5zM346 17h6v1h-6zM347 24h4v1h-4zM350 20h2v4h-2zM350 467h2v1h-2zM350 468h6v1h-6zM351 466h2v1h-2zM352 465h4v1h-4zM353 18h2v3h-2zM353 22h2v2h-2zM353 21h3v1h-3zM353 464h3v1h-3zM354 463h2v1h-2zM354 466h2v2h-2zM354 469h2v2h-2zM354 17h4v1h-4zM354 24h4v1h-4zM356 20h3v1h-3zM357 18h2v2h-2zM357 21h2v3h-2zM358 465h4v1h-4zM358 470h4v1h-4zM359 464h2v1h-2zM359 466h2v1h-2zM359 469h2v1h-2zM359 471h2v1h-2zM360 40h1v4h-1zM360 449h1v4h-1zM360 17h6v1h-6zM361 23h2v2h-2zM362 21h2v2h-2zM363 19h2v2h-2zM364 18h2v1h-2zM364 464h2v3h-2zM364 468h2v2h-2zM364 467h3v1h-3zM365 463h4v1h-4zM365 470h4v1h-4zM367 19h1v1h-1zM367 466h3v1h-3zM367 24h6v1h-6zM368 464h2v2h-2zM368 467h2v3h-2zM368 18h3v1h-3zM369 17h2v1h-2zM369 19h2v5h-2zM371 464h2v3h-2zM371 468h2v2h-2zM371 467h3v1h-3zM372 463h4v1h-4zM372 470h4v1h-4zM374 18h2v3h-2zM374 22h2v2h-2zM374 21h3v1h-3zM374 466h3v1h-3zM375 464h2v2h-2zM375 467h2v3h-2zM375 17h4v1h-4zM375 24h4v1h-4zM377 20h3v1h-3zM378 18h2v2h-2zM378 21h2v3h-2zM392 40h1v2h-1zM392 451h1v2h-1zM408 465h1v1h-1zM408 470h6v1h-6zM409 464h3v1h-3zM410 463h2v1h-2zM410 465h2v5h-2zM415 464h2v2h-2zM415 467h2v3h-2zM415 466h5v1h-5zM416 463h4v1h-4zM416 470h4v1h-4zM419 464h2v1h-2zM419 467h2v3h-2zM423 465h4v1h-4zM423 470h4v1h-4zM424 464h2v1h-2zM424 466h2v1h-2zM424 469h2v1h-2zM424 471h2v1h-2zM425 40h1v4h-1zM425 449h1v4h-1zM429 464h2v3h-2zM429 468h2v2h-2zM429 467h3v1h-3zM430 463h4v1h-4zM430 470h4v1h-4zM432 466h3v1h-3zM433 464h2v2h-2zM433 467h2v3h-2zM436 464h2v3h-2zM436 468h2v2h-2zM436 467h3v1h-3zM437 463h4v1h-4zM437 470h4v1h-4zM439 466h3v1h-3zM440 464h2v2h-2zM440 467h2v3h-2zM457 40h1v2h-1zM457 451h1v2h-1zM472 465h1v1h-1zM472 470h6v1h-6zM473 464h3v1h-3zM474 463h2v1h-2zM474 465h2v5h-2zM479 464h2v2h-2zM479 467h2v3h-2zM480 463h4v1h-4zM480 466h4v1h-4zM480 470h4v1h-4zM481 48h2v2h-2zM481 51h2v3h-2zM481 50h5v1h-5zM481 47h6v1h-6zM481 54h6v1h-6zM483 464h2v2h-2zM483 467h2v3h-2zM487 465h4v1h-4zM487 470h4v1h-4zM488 50h2v5h-2zM488 464h2v1h-2zM488 466h2v1h-2zM488 469h2v1h-2zM488 471h2v1h-2zM488 49h5v1h-5zM489 40h1v4h-1zM489 449h1v4h-1zM492 50h2v1h-2zM493 464h2v3h-2zM493 468h2v2h-2zM493 467h3v1h-3zM494 463h4v1h-4zM494 470h4v1h-4zM495 49h5v1h-5zM496 47h2v2h-2zM496 50h2v4h-2zM496 466h3v1h-3zM497 464h2v2h-2zM497 467h2v3h-2zM497 54h3v1h-3zM499 53h2v1h-2zM500 464h2v3h-2zM500 468h2v2h-2zM500 467h3v1h-3zM501 463h4v1h-4zM501 470h4v1h-4zM502 50h2v5h-2zM502 49h5v1h-5zM503 466h3v1h-3zM504 464h2v2h-2zM504 467h2v3h-2zM506 50h2v1h-2zM509 52h2v2h-2zM510 49h4v1h-4zM510 51h5v1h-5zM510 54h5v1h-5zM513 50h2v1h-2zM513 52h2v2h-2zM516 50h2v2h-2zM516 53h2v1h-2zM516 55h2v1h-2zM517 49h3v1h-3zM517 52h4v1h-4zM517 54h4v1h-4zM517 56h4v1h-4zM520 50h2v2h-2zM520 55h2v1h-2zM521 40h1v2h-1zM521 49h1v1h-1zM521 451h1v2h-1zM531 47h2v7h-2zM531 46h4v1h-4zM531 54h4v1h-4zM537 46h2v5h-2zM537 53h2v2h-2zM537 464h2v2h-2zM537 469h2v1h-2zM537 51h4v2h-4zM537 470h6v1h-6zM538 468h2v1h-2zM538 463h4v1h-4zM539 467h3v1h-3zM540 50h2v1h-2zM540 53h2v1h-2zM541 49h2v1h-2zM541 54h2v1h-2zM541 464h2v3h-2zM544 54h1v1h-1zM544 47h2v4h-2zM544 53h2v1h-2zM544 464h2v3h-2zM544 468h2v2h-2zM544 467h3v1h-3zM544 51h6v2h-6zM545 463h4v1h-4zM545 470h4v1h-4zM547 466h3v1h-3zM548 47h2v4h-2zM548 53h2v1h-2zM548 464h2v2h-2zM548 467h2v3h-2zM549 54h1v1h-1zM551 46h2v3h-2zM551 50h2v5h-2zM551 49h5v1h-5zM552 465h4v1h-4zM552 470h4v1h-4zM553 464h2v1h-2zM553 466h2v1h-2zM553 469h2v1h-2zM553 471h2v1h-2zM554 40h1v4h-1zM555 50h2v5h-2zM558 464h2v3h-2zM558 468h2v2h-2zM558 467h3v1h-3zM559 46h4v1h-4zM559 54h4v1h-4zM559 463h4v1h-4zM559 470h4v1h-4zM561 47h2v7h-2zM561 466h3v1h-3zM562 464h2v2h-2zM562 467h2v3h-2zM565 464h2v3h-2zM565 468h2v2h-2zM565 467h3v1h-3zM566 463h4v1h-4zM566 470h4v1h-4zM568 466h3v1h-3zM569 464h2v2h-2zM569 467h2v3h-2zM586 40h1v2h-1zM586 451h1v1h-1zM601 464h2v2h-2zM601 469h2v1h-2zM601 470h6v1h-6zM602 468h2v1h-2zM602 463h4v1h-4zM603 467h3v1h-3zM605 464h2v3h-2zM608 464h2v2h-2zM608 469h2v1h-2zM608 470h6v1h-6zM609 468h2v1h-2zM609 463h4v1h-4zM610 467h3v1h-3zM612 464h2v3h-2zM614 91h5v1h-5zM614 142h5v1h-5zM614 194h5v1h-5zM614 246h5v1h-5zM614 298h5v1h-5zM614 349h5v1h-5zM614 401h5v1h-5zM616 465h4v1h-4zM616 470h4v1h-4zM617 464h2v1h-2zM617 466h2v1h-2zM617 469h2v1h-2zM617 471h2v1h-2zM618 40h1v51h-1zM618 92h1v50h-1zM618 143h1v51h-1zM618 195h1v51h-1zM618 247h1v51h-1zM618 299h1v50h-1zM618 350h1v51h-1zM618 402h1v51h-1zM622 464h2v3h-2zM622 468h2v2h-2zM622 467h3v1h-3zM623 463h4v1h-4zM623 470h4v1h-4zM625 466h3v1h-3zM626 464h2v2h-2zM626 467h2v3h-2zM629 464h2v3h-2zM629 468h2v2h-2zM629 467h3v1h-3zM630 463h4v1h-4zM630 470h4v1h-4zM632 466h3v1h-3zM633 464h2v2h-2zM633 467h2v3h-2z"/>
<path fill="#9400d3" d="M98 451h23v1h-23zM120 450h15v1h-15zM134 449h12v1h-12zM145 448h9v1h-9zM153 447h6v1h-6zM158 446h6v1h-6zM163 445h5v1h-5zM167 444h5v1h-5zM171 443h4v1h-4zM174 442h5v1h-5zM178 441h4v1h-4zM181 440h3v1h-3zM184 439h1v1h-1zM185 438h1v1h-1zM186 437h1v1h-1zM187 436h3v1h-3zM189 435h2v1h-2zM191 434h1v1h-1zM192 433h3v1h-3zM194 432h3v1h-3zM196 431h3v1h-3zM198 430h2v1h-2zM200 429h1v1h-1zM201 428h3v1h-3zM203 427h2v1h-2zM205 426h1v1h-1zM206 425h1v1h-1zM207 424h2v1h-2zM209 423h1v1h-1zM210 422h2v1h-2zM212 421h1v1h-1zM213 420h1v1h-1zM214 419h2v1h-2zM216 418h1v1h-1zM217 417h1v1h-1zM218 416h1v1h-1zM219 415h1v1h-1zM220 414h1v1h-1zM221 413h1v1h-1zM222 412h1v1h-1zM223 411h1v1h-1zM224 410h1v1h-1zM224 409h2v1h-2zM225 408h1v1h-1zM226 407h1v1h-1zM227 406h1v1h-1zM227 405h2v1h-2zM228 404h1v1h-1zM229 403h1v1h-1zM230 402h1v1h-1zM231 401h1v1h-1zM231 400h2v1h-2zM232 399h1v1h-1zM233 398h1v1h-1zM234 397h1v1h-1zM235 396h1v1h-1zM236 395h1v1h-1zM236 394h2v1h-2zM237 393h1v1h-1zM238 392h1v1h-1zM239 391h1v1h-1zM239 390h2v1h-2zM240 389h1v1h-1zM241 388h1v1h-1zM242 387h1v1h-1zM242 386h2v1h-2zM243 385h1v1h-1zM244 384h1v1h-1zM244 383h2v1h-2zM245 382h1v1h-1zM246 381h1v1h-1zM247 380h1v1h-1zM247 379h2v1h-2zM248 378h1v1h-1zM249 377h1v1h-1zM249 376h2v1h-2zM250 375h1v1h-1zM251 374h1v1h-1zM252 373h1v1h-1zM252 372h2v1h-2zM253 371h1v1h-1zM254 370h1v1h-1zM254 369h2v1h-2zM255 368h1v1h-1zM256 367h1v1h-1zM257 366h1v1h-1zM257 365h2v1h-2zM258 364h1v1h-1zM259 363h1v1h-1zM259 362h2v1h-2zM260 361h1v1h-1zM261 360h1v1h-1zM261 359h2v1h-2zM262 358h1v1h-1zM263 357h1v1h-1zM263 356h2v1h-2zM264 355h1v1h-1zM265 354h1v1h-1zM265 353h2v1h-2zM266 352h1v1h-1zM266 351h2v1h-2zM267 350h1v1h-1zM267 349h2v1h-2zM268 348h1v1h-1zM269 347h1v1h-1zM270 346h1v1h-1zM271 345h1v1h-1zM271 344h2v1h-2zM272 343h1v1h-1zM273 342h1v1h-1zM273 341h2v1h-2zM274 340h1v1h-1zM275 339h1v1h-1zM275 338h2v1h-2zM276 337h1v1h-1zM277 336h1v1h-1zM277 335h2v1h-2zM278 334h1v1h-1zM279 333h1v1h-1zM279 332h2v1h-2zM280 331h1v1h-1zM281 330h1v1h-1zM281 329h2v1h-2zM282 328h1v1h-1zM283 327h1v1h-1zM283 326h2v1h-2zM284 325h1v1h-1zM285 324h1v1h-1zM285 323h2v1h-2zM286 322h1v1h-1zM286 321h2v1h-2zM287 320h1v1h-1zM287 319h2v1h-2zM288 318h1v1h-1zM288 317h2v1h-2zM289 316h1v1h-1zM290 315h1v1h-1zM290 314h2v1h-2zM291 313h1v1h-1zM292 312h1v1h-1zM292 311h2v1h-2zM293 310h1v1h-1zM294 309h1v1h-1zM294 308h2v1h-2zM295 307h1v1h-1zM296 306h1v1h-1zM296 305h2v1h-2zM297 304h1v1h-1zM298 303h1v1h-1zM298 302h2v1h-2zM299 301h1v1h-1zM300 300h1v1h-1zM300 299h2v1h-2zM301 298h1v1h-1zM302 297h1v1h-1zM302 296h2v1h-2zM303 295h1v1h-1zM303 294h2v1h-2zM304 293h1v1h-1zM304 292h2v1h-2zM305 291h1v1h-1zM305 290h2v1h-2zM306 289h1v1h-1zM307 288h1v1h-1zM307 287h2v1h-2zM308 286h1v1h-1zM309 285h1v1h-1zM309 284h2v1h-2zM310 283h1v1h-1zM311 282h1v1h-1zM311 281h2v1h-2zM312 280h1v1h-1zM312 279h2v1h-2zM313 278h1v1h-1zM314 277h1v1h-1zM314 276h2v1h-2zM315 275h1v1h-1zM315 274h2v1h-2zM316 273h1v1h-1zM316 272h2v1h-2zM317 271h1v1h-1zM318 270h1v1h-1zM318 269h2v1h-2zM319 268h1v1h-1zM319 267h2v1h-2zM320 266h1v1h-1zM320 265h2v1h-2zM321 264h1v1h-1zM322 263h1v1h-1zM322 262h2v1h-2zM323 261h1v1h-1zM323 260h2v1h-2zM324 259h1v1h-1zM325 258h1v1h-1zM325 257h2v1h-2zM326 256h1v1h-1zM327 255h1v1h-1zM327 254h2v1h-2zM328 253h1v1h-1zM329 252h1v1h-1zM329 251h2v1h-2zM330 250h1v1h-1zM331 249h1v1h-1zM331 248h2v1h-2zM332 247h1v1h-1zM332 246h2v1h-2zM333 245h1v1h-1zM334 244h1v1h-1zM334 243h2v1h-2zM335 242h1v1h-1zM336 241h1v1h-1zM336 240h2v1h-2zM337 239h1v1h-1zM337 238h2v1h-2zM338 237h1v1h-1zM339 236h1v1h-1zM339 235h2v1h-2zM340 234h1v1h-1zM341 233h1v1h-1zM341 232h2v1h-2zM342 231h1v1h-1zM343 230h1v1h-1zM343 229h2v1h-2zM344 228h1v1h-1zM344 227h2v1h-2zM345 226h1v1h-1zM345 225h2v1h-2zM346 224h1v1h-1zM346 223h2v1h-2zM347 222h1v1h-1zM348 221h1v1h-1zM348 220h2v1h-2zM349 219h1v1h-1zM350 218h1v1h-1zM350 217h2v1h-2zM351 216h1v1h-1zM352 215h1v1h-1zM352 214h2v1h-2zM353 213h1v1h-1zM354 212h1v1h-1zM354 211h2v1h-2zM355 210h1v1h-1zM356 209h1v1h-1zM356 208h2v1h-2zM357 207h1v1h-1zM358 206h1v1h-1zM358 205h2v1h-2zM359 204h1v1h-1zM360 203h1v1h-1zM360 202h2v1h-2zM361 201h1v1h-1zM362 200h1v1h-1zM362 199h2v1h-2zM363 198h1v1h-1zM364 197h1v1h-1zM365 196h1v1h-1zM365 195h2v1h-2zM366 194h1v1h-1zM367 193h1v1h-1zM367 192h2v1h-2zM368 191h1v1h-1zM368 190h2v1h-2zM369 189h1v1h-1zM369 188h2v1h-2zM370 187h1v1h-1zM371 186h1v1h-1zM371 185h2v1h-2zM372 184h1v1h-1zM373 183h1v1h-1zM374 182h1v1h-1zM374 181h2v1h-2zM375 180h1v1h-1zM376 179h1v1h-1zM377 178h1v1h-1zM377 177h2v1h-2zM378 176h1v1h-1zM379 175h1v1h-1zM380 174h1v1h-1zM380 173h2v1h-2zM381 172h1v1h-1zM381 171h2v1h-2zM382 170h1v1h-1zM383 169h1v1h-1zM383 168h2v1h-2zM384 167h1v1h-1zM385 166h1v1h-1zM386 165h1v1h-1zM386 164h2v1h-2zM387 163h1v1h-1zM388 162h1v1h-1zM389 161h1v1h-1zM389 160h2v1h-2zM390 159h1v1h-1zM391 158h1v1h-1zM392 157h1v1h-1zM393 156h1v1h-1zM394 155h1v1h-1zM394 154h2v1h-2zM395 153h1v1h-1zM396 152h1v1h-1zM397 151h1v1h-1zM398 150h1v1h-1zM399 149h1v1h-1zM400 148h1v1h-1zM400 147h2v1h-2zM401 146h1v1h-1zM402 145h1v1h-1zM403 144h1v1h-1zM404 143h1v1h-1zM404 142h2v1h-2zM405 141h1v1h-1zM405 140h2v1h-2zM406 139h1v1h-1zM407 138h1v1h-1zM408 137h1v1h-1zM409 136h1v1h-1zM410 135h1v1h-1zM411 134h1v1h-1zM412 133h1v1h-1zM413 132h1v1h-1zM414 131h1v1h-1zM415 130h1v1h-1zM416 129h1v1h-1zM417 128h1v1h-1zM418 127h1v1h-1zM419 126h1v1h-1zM419 125h2v1h-2zM420 124h1v1h-1zM421 123h1v1h-1zM422 122h1v1h-1zM423 121h1v1h-1zM424 120h1v1h-1zM425 119h1v1h-1zM426 118h1v1h-1zM427 117h1v1h-1zM428 116h1v1h-1zM429 115h1v1h-1zM430 114h1v1h-1zM430 113h2v1h-2zM431 112h1v1h-1zM432 111h1v1h-1zM433 110h1v1h-1zM434 109h1v1h-1zM435 108h1v1h-1zM436 107h1v1h-1zM437 106h2v1h-2zM439 105h1v1h-1zM440 104h1v1h-1zM441 103h2v1h-2zM443 102h1v1h-1zM444 101h2v1h-2zM446 100h1v1h-1zM447 99h2v1h-2zM449 98h1v1h-1zM450 97h2v1h-2zM452 96h1v1h-1zM453 95h3v1h-3zM455 94h2v1h-2zM457 93h1v1h-1zM458 92h3v1h-3zM460 91h3v1h-3zM462 90h3v1h-3zM464 89h3v1h-3zM466 88h3v1h-3zM468 87h3v1h-3zM470 86h3v1h-3zM472 85h3v1h-3zM474 84h3v1h-3zM476 83h2v1h-2zM477 82h3v1h-3zM479 81h4v1h-4zM482 80h4v1h-4zM485 79h5v1h-5zM489 78h4v1h-4zM492 77h4v1h-4zM495 76h5v1h-5zM499 75h5v1h-5zM503 74h6v1h-6zM508 73h8v1h-8zM515 72h9v1h-9zM523 71h11v1h-11zM533 70h11v1h-11zM543 69h12v1h-12zM554 70h1v383h-1zM570 452h22v1h-22zM572 50h33v1h-33zM591 451h8v1h-8z"/>
</svg>
</body></html>
